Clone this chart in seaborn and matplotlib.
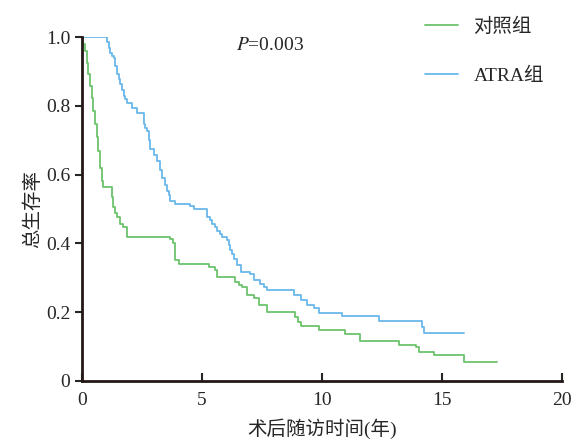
import numpy as np
import pandas as pd
import matplotlib
matplotlib.use("Agg")
import matplotlib.pyplot as plt
import seaborn as sns

# Kaplan-Meier steps (time in years, survival after the step)
ctrl_time = [0, 0.05, 0.125, 0.19, 0.26, 0.33, 0.4, 0.47, 0.54, 0.61, 0.68, 0.75, 0.82, 0.89,
             1.23, 1.30, 1.37, 1.44, 1.58, 1.72, 1.86,
             3.67, 3.80, 3.89, 4.03, 5.28, 5.55, 5.63, 6.39, 6.53, 6.67, 6.88, 7.15, 7.36, 7.71,
             8.89, 9.0, 9.1, 9.86, 10.97, 11.57, 13.19, 13.9, 14.03, 14.65, 15.9, 17.3]
ctrl_surv = [1.0, 0.98, 0.959, 0.925, 0.892, 0.858, 0.824, 0.785, 0.747, 0.71, 0.67, 0.621, 0.583,
             0.563, 0.534, 0.505, 0.49, 0.476, 0.457, 0.447, 0.42,
             0.412, 0.40, 0.351, 0.341, 0.331, 0.322, 0.302, 0.288, 0.28, 0.273, 0.249, 0.24, 0.22,
             0.2, 0.186, 0.172, 0.16, 0.148, 0.138, 0.116, 0.106, 0.099, 0.085, 0.075, 0.056, 0.056]

atra_time = [0, 1.04, 1.11, 1.18, 1.25, 1.32, 1.39, 1.46, 1.53, 1.60, 1.67, 1.73, 1.80, 1.88, 2.08,
             2.29, 2.57, 2.64, 2.71, 2.78, 2.85, 2.99, 3.13, 3.23, 3.33, 3.44, 3.54, 3.61, 3.68,
             3.89, 4.51, 4.65, 5.21, 5.31, 5.42, 5.52, 5.63, 5.73, 5.83, 6.04, 6.11, 6.18, 6.25,
             6.32, 6.46, 6.6, 7.01, 7.15, 7.43, 7.57, 7.71, 8.82, 9.1, 9.38, 9.65, 9.86, 10.83,
             12.36, 14.17, 14.23, 15.9]
atra_surv = [1.0, 0.985, 0.97, 0.954, 0.945, 0.94, 0.915, 0.892, 0.878, 0.863, 0.845, 0.829, 0.82,
             0.81, 0.795, 0.78, 0.747, 0.737, 0.727, 0.70, 0.675, 0.658, 0.64, 0.615, 0.59, 0.57,
             0.554, 0.54, 0.525, 0.515, 0.51, 0.50, 0.476, 0.467, 0.457, 0.447, 0.437, 0.428, 0.418,
             0.409, 0.395, 0.38, 0.368, 0.356, 0.336, 0.317, 0.312, 0.293, 0.283, 0.273, 0.264,
             0.249, 0.235, 0.22, 0.211, 0.198, 0.188, 0.175, 0.157, 0.14, 0.14]

groups = ["对照组", "ATRA组"]
colors = ["#6cc36c", "#6ab8ea"]
x_ticks = [0, 5, 10, 15, 20]
y_ticks = [0, 0.2, 0.4, 0.6, 0.8, 1.0]
y_ticklabels = ["0", "0.2", "0.4", "0.6", "0.8", "1.0"]
p_text = "$P$=0.003"

sns.set_style("ticks")
plt.rcParams["font.family"] = ["Liberation Serif", "Noto Sans CJK SC"]
plt.rcParams["mathtext.fontset"] = "stix"

df = pd.concat([
    pd.DataFrame({"time": ctrl_time, "surv": ctrl_surv, "group": groups[0]}),
    pd.DataFrame({"time": atra_time, "surv": atra_surv, "group": groups[1]}),
])

fig = plt.figure(figsize=(5.82, 4.43), dpi=100)
ax = fig.add_axes([0.141, 0.14, 0.825, 0.776])

for g, c in zip(groups, colors):
    sub = df[df["group"] == g]
    sns.lineplot(data=sub, x="time", y="surv", ax=ax, color=c, lw=1.3,
                 drawstyle="steps-post", estimator=None, label=g, legend=False)

ax.set_xlim(0, 20)
ax.set_ylim(0, 1.0)
ax.set_xticks(x_ticks)
ax.set_yticks(y_ticks)
ax.set_yticklabels(y_ticklabels)
ax.tick_params(axis="x", direction="in", length=6, width=1.5, labelsize=14, pad=8)
ax.tick_params(axis="y", direction="out", length=5, width=1.5, labelsize=14)
for s in ["left", "bottom"]:
    ax.spines[s].set_linewidth(2)
    ax.spines[s].set_color("#231815")
sns.despine(ax=ax)

ax.set_xlabel("术后随访时间(年)", fontsize=14, labelpad=7)
ax.set_ylabel("总生存率", fontsize=14, labelpad=3)
ax.text(6.4, 0.975, p_text, fontsize=14, va="center", ha="left")

handles = ax.get_lines()[:2]
fig.legend(handles, groups, loc="upper left", bbox_to_anchor=(0.70, 1.0), frameon=False,
           fontsize=14, handlelength=1.7, labelspacing=1.6, handletextpad=0.8)

fig.savefig("out.png", dpi=100)
